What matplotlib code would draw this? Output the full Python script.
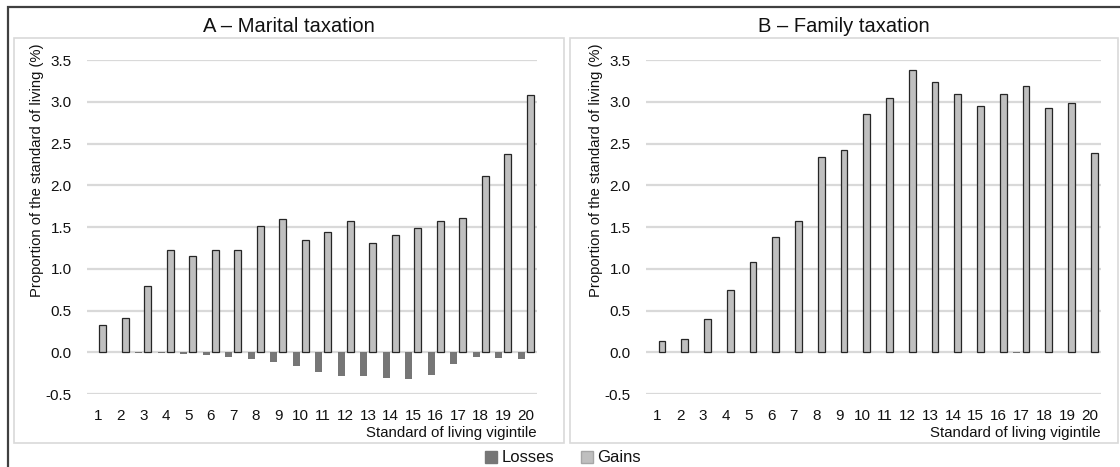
import matplotlib
matplotlib.use("Agg")
import matplotlib.pyplot as plt
from matplotlib.patches import Rectangle, Patch
import numpy as np

# Arial-like font; reference uses a narrow face, so sizes are scaled down to match widths
plt.rcParams["font.family"] = "Liberation Sans"

vigintiles = list(range(1, 21))
marital_gains = [0.33, 0.41, 0.79, 1.23, 1.15, 1.22, 1.23, 1.51, 1.59, 1.35,
                 1.44, 1.57, 1.31, 1.41, 1.49, 1.57, 1.61, 2.11, 2.38, 3.08]
marital_losses = [0.0, 0.0, -0.003, -0.008, -0.02, -0.036, -0.052, -0.076, -0.116, -0.163,
                  -0.235, -0.29, -0.287, -0.307, -0.323, -0.271, -0.135, -0.052, -0.064, -0.084]
family_gains = [0.13, 0.155, 0.395, 0.74, 1.08, 1.38, 1.57, 2.34, 2.42, 2.855,
                3.04, 3.38, 3.235, 3.09, 2.95, 3.09, 3.19, 2.93, 2.985, 2.39]
family_losses = [0.0, 0.0, 0.0, 0.0, 0.0, 0.0, 0.0, 0.0, 0.0, 0.0,
                 0.0, 0.0, 0.0, 0.0, 0.0, 0.0, -0.008, 0.0, 0.0, 0.0]
titles = ["A \u2013 Marital taxation", "B \u2013 Family taxation"]
yticks = [-0.5, 0.0, 0.5, 1.0, 1.5, 2.0, 2.5, 3.0, 3.5]

LOSS_COLOR = "#767676"
GAIN_COLOR = "#bfbfbf"
GRID_COLOR = "#d9d9d9"
TEXT_COLOR = "#111111"

W, H = 1120, 467
fig = plt.figure(figsize=(W / 100, H / 100), dpi=100)

# outer frame (only top and left edges visible)
fig.patches.append(Rectangle((8 / W, -0.1), 1.2, 1 - 7 / H + 0.1, transform=fig.transFigure,
                             fill=False, edgecolor="#404040", linewidth=1.6))

# panel boxes: (x0, x1) in pixels; axes (left, right) in pixels
boxes = [(14, 564), (570, 1118)]
axes_px = [(87, 537), (646, 1101)]
data = [(marital_losses, marital_gains), (family_losses, family_gains)]

x = np.arange(len(vigintiles))
for (bx0, bx1), (ax0, ax1), (losses, gains), title in zip(boxes, axes_px, data, titles):
    fig.patches.append(Rectangle((bx0 / W, 1 - 443 / H), (bx1 - bx0) / W, (443 - 38) / H,
                                 transform=fig.transFigure, fill=False,
                                 edgecolor=GRID_COLOR, linewidth=1.2))
    fig.text((bx0 + bx1) / 2 / W, 1 - 32 / H, title, ha="center", va="baseline",
             fontsize=14.5, color=TEXT_COLOR)

    ax = fig.add_axes([ax0 / W, 1 - 394 / H, (ax1 - ax0) / W, (394 - 60) / H])
    ax.bar(x - 0.2, losses, width=0.3, color=LOSS_COLOR, zorder=3)
    ax.bar(x + 0.2, gains, width=0.3, color=GAIN_COLOR, edgecolor="#262626",
           linewidth=0.9, zorder=3)
    ax.set_xlim(-0.5, len(vigintiles) - 0.5)
    ax.set_ylim(-0.5, 3.5)
    ax.set_yticks(yticks)
    ax.set_yticklabels([f"{v:.1f}" for v in yticks])
    ax.set_xticks(x)
    ax.set_xticklabels([str(v) for v in vigintiles])
    ax.tick_params(length=0, labelsize=11, pad=11, colors=TEXT_COLOR)
    ax.grid(axis="y", color=GRID_COLOR, linewidth=1.6, zorder=0)
    for s in ax.spines.values():
        s.set_visible(False)
    ax.set_xlabel("Standard of living vigintile", loc="right", fontsize=10.8, labelpad=2,
                  color=TEXT_COLOR)
    fig.text((ax0 - 50) / W, 1 - 170 / H, "Proportion of the standard of living (%)",
             rotation=90, ha="center", va="center", fontsize=10.6, color=TEXT_COLOR)

handles = [Patch(facecolor=LOSS_COLOR, edgecolor=LOSS_COLOR),
           Patch(facecolor=GAIN_COLOR, edgecolor="#a6a6a6")]
fig.legend(handles, ["Losses", "Gains"], loc="center", bbox_to_anchor=(563 / W, 1 - 458 / H),
           ncol=2, frameon=False, fontsize=12, handlelength=0.75, handleheight=0.75,
           handletextpad=0.25, columnspacing=1.6, borderpad=0, labelcolor=TEXT_COLOR)

fig.savefig("out.png", dpi=100)
